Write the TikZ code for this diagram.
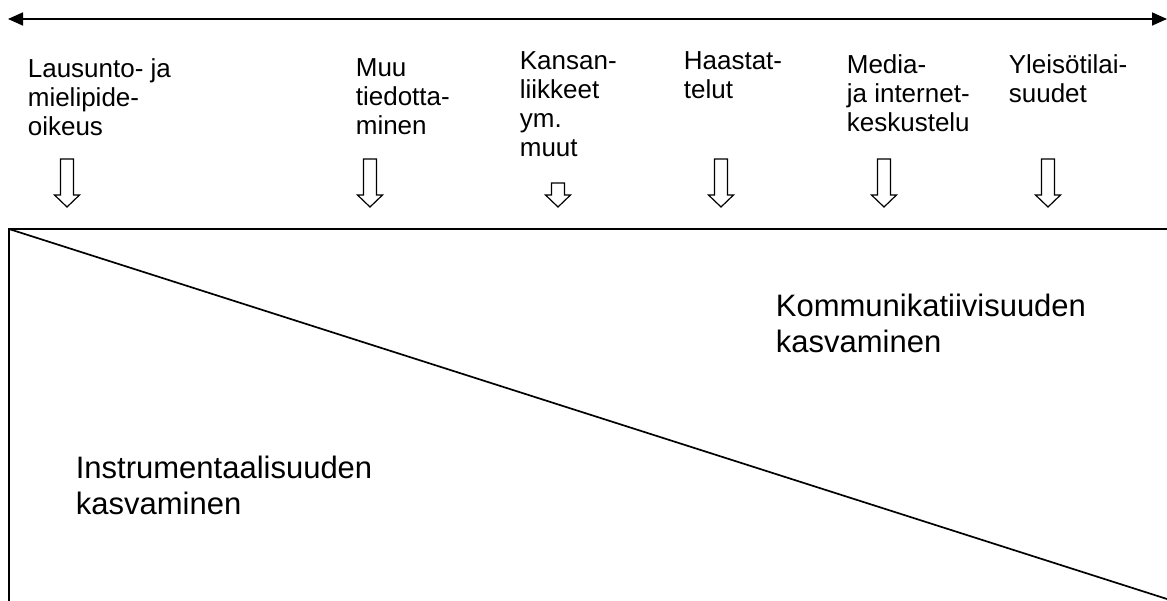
\documentclass[tikz,border=0pt]{standalone}
\usepackage{fontspec}
\setmainfont{Liberation Sans}
\usepackage{tikz}
\usetikzlibrary{arrows.meta,positioning}

\begin{document}
\begin{tikzpicture}[x=1pt,y=-1pt,line width=1.7pt,
                    >={Triangle[length=15pt,width=13pt]}]
  \tikzstyle{channel}=[anchor=north west,inner sep=0pt,align=left,
                       font=\fontsize{26}{29}\selectfont]
  \tikzstyle{growth}=[anchor=north west,inner sep=0pt,align=left,
                      font=\fontsize{31}{36}\selectfont]
  \tikzstyle{hollow}=[draw=black,fill=white,line width=1.2pt,line join=miter]

  \useasboundingbox (0,0) rectangle (1167,601);

  % scale at the top
  \coordinate (axl) at (8,19);
  \coordinate (axr) at (1167,19);
  \draw[<->] (axl) -- (axr);

  % channels
  \node[channel] (lau) at (27,58)   {Lausunto- ja\\mielipide-\\oikeus};
  \node[channel] (muu) at (355,58)  {Muu\\tiedotta-\\minen};
  \node[channel] (kan) at (519,51)  {Kansan-\\liikkeet\\ym.\\muut};
  \node[channel] (haa) at (683,51)  {Haastat-\\telut};
  \node[channel] (med) at (846,54)  {Media-\\ja internet-\\keskustelu};
  \node[channel] (yle) at (1008,54) {Yleisötilai-\\suudet};

  % hollow arrows
  \foreach \x/\t in {67/159,370/159,558/183,721/159,884/159,1048/159}
    \draw[hollow] (\x-6.5,\t) -- (\x+6.5,\t) -- (\x+6.5,195) -- (\x+12.5,195)
                  -- (\x,207) -- (\x-12.5,195) -- (\x-6.5,195) -- cycle;

  % the box and its diagonal
  \coordinate (tl) at (9,229);
  \coordinate (tr) at (1167,229);
  \coordinate (bl) at (9,601);
  \coordinate (br) at (1167,599);
  \draw (tr) -- (tl) -- (bl);
  \draw (tl) -- (br);

  \node[growth] (kom) at (775,293) {Kommunikatiivisuuden\\kasvaminen};
  \node[growth] (ins) at (75,455)  {Instrumentaalisuuden\\kasvaminen};
\end{tikzpicture}
\end{document}
